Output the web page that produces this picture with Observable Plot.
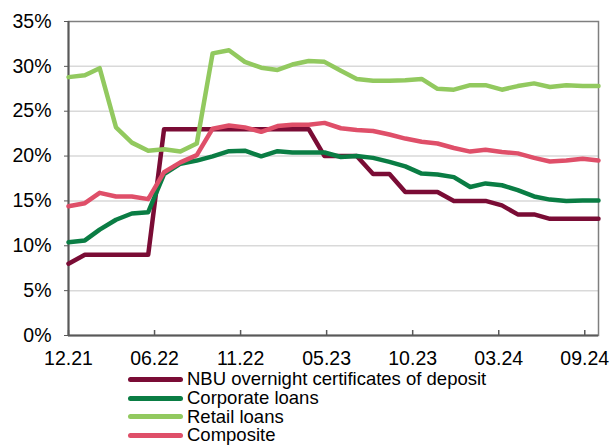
<!DOCTYPE html>
<html><head><meta charset="utf-8">
<script src="https://cdn.jsdelivr.net/npm/d3@7"></script>
<script src="https://cdn.jsdelivr.net/npm/@observablehq/plot@0.6"></script>
<style>
body{margin:0;background:#fff;font-family:"Liberation Sans",Arial,sans-serif;}
#chart{position:absolute;left:0;top:0;}
#legend{position:absolute;left:128px;top:370px;font-size:18.5px;line-height:18.8px;color:#000;white-space:nowrap;}
.row{display:flex;align-items:center;height:18.8px;overflow:visible;}
.row .tx{display:block;line-height:18.8px;height:18.8px;}
.sw{width:55px;height:5px;border-radius:3px;margin-right:4px;flex:none;}
</style></head><body>
<div id="chart"></div>
<div id="legend"></div>
<script>
const months = ["2021-12","2022-01","2022-02","2022-03","2022-04","2022-05","2022-06","2022-07","2022-08","2022-09","2022-10","2022-11",
  "2022-12","2023-01","2023-02","2023-03","2023-04","2023-05","2023-06","2023-07","2023-08","2023-09","2023-10","2023-11",
  "2023-12","2024-01","2024-02","2024-03","2024-04","2024-05","2024-06","2024-07","2024-08","2024-09"];
const nbu = [8, 9, 9, 9, 9, 9, 23, 23, 23, 23, 23, 23, 23, 23, 23, 23, 20, 20, 20, 18, 18, 16, 16, 16, 15, 15, 15, 14.5, 13.5, 13.5, 13, 13, 13, 13];
const corporate = [10.4, 10.6, 11.8, 12.9, 13.6, 13.75, 18.0, 19.15, 19.5, 19.97, 20.55, 20.6, 19.97, 20.55, 20.4, 20.4, 20.4, 19.9, 20.0, 19.8, 19.35, 18.85, 18.05, 17.95, 17.65, 16.55, 16.95, 16.75, 16.2, 15.5, 15.15, 15.0, 15.05, 15.05];
const retail = [28.8, 29.0, 29.8, 23.2, 21.5, 20.6, 20.75, 20.5, 21.4, 31.45, 31.8, 30.5, 29.85, 29.6, 30.2, 30.6, 30.5, 29.5, 28.6, 28.4, 28.4, 28.45, 28.6, 27.5, 27.4, 27.9, 27.9, 27.4, 27.8, 28.1, 27.7, 27.9, 27.8, 27.8];
const composite = [14.4, 14.75, 15.9, 15.5, 15.5, 15.2, 18.2, 19.3, 20.1, 23.05, 23.4, 23.2, 22.7, 23.35, 23.5, 23.5, 23.7, 23.1, 22.9, 22.8, 22.4, 21.95, 21.6, 21.4, 20.9, 20.5, 20.7, 20.45, 20.3, 19.8, 19.4, 19.5, 19.7, 19.5];
const seriesNames = ["NBU overnight certificates of deposit","Corporate loans","Retail loans","Composite"];
const seriesColors = ["#7a0c35","#0a7d44","#92c95f","#df4f69"];
const seriesValues = [nbu, corporate, retail, composite];
const yTicks = [0,5,10,15,20,25,30,35];
const tickDates = ["2021-12-31","2022-06-12","2022-11-22","2023-05-04","2023-10-14","2024-03-25","2024-09-04"];
const tickLabels = ["12.21","06.22","11.22","05.23","10.23","03.24","09.24"];

const W = 611, H = 370, mL = 68, mR = 13, mT = 21, mB = 35;
const parseM = d3.utcParse("%Y-%m");
const parseD = d3.utcParse("%Y-%m-%d");
const endOfMonth = s => d3.utcDay.offset(d3.utcMonth.offset(parseM(s), 1), -1);
const dates = months.map(endOfMonth);
const ticks = tickDates.map(parseD);
const labelMap = new Map(ticks.map((d, i) => [+d, tickLabels[i]]));

const lines = seriesNames.map((name, k) =>
  Plot.line(dates.map((d, i) => ({date: d, value: seriesValues[k][i]})), {
    x: "date", y: "value", stroke: seriesColors[k], strokeWidth: 4.5,
    strokeLinejoin: "round", strokeLinecap: "round"
  })
);

const chart = Plot.plot({
  width: W, height: H,
  marginLeft: mL, marginRight: mR, marginTop: mT, marginBottom: mB,
  style: {fontFamily: "'Liberation Sans', Arial, sans-serif", fontSize: "19.5px", background: "#fff", color: "#000"},
  x: {type: "utc", domain: [dates[0], dates[dates.length - 1]], label: null},
  y: {domain: [0, 35], label: null},
  marks: [
    Plot.gridY(yTicks.filter(v => v > 0 && v < 35), {stroke: "#d9d9d9", strokeOpacity: 1, strokeWidth: 1.5}),
    Plot.frame({stroke: "#7f7f7f", strokeWidth: 1.5}),
    Plot.ruleY([0], {stroke: "#595959", strokeWidth: 2}),
    Plot.ruleX([dates[0]], {stroke: "#595959", strokeWidth: 2}),
    Plot.ruleX(ticks, {x: d => d, insetTop: (H - mT - mB) - 5, stroke: "#595959", strokeWidth: 1.5}),
    Plot.axisY(yTicks, {label: null, tickFormat: d => d + "%", tickSize: 4, tickPadding: 13, stroke: "#595959", fill: "#000", fontSize: 19.5}),
    Plot.axisX(ticks, {label: null, tickFormat: d => labelMap.get(+d), tickSize: 0, tickPadding: 16, fill: "#000", fontSize: 19.5}),
    ...lines
  ]
});
document.getElementById("chart").appendChild(chart);

const legend = document.getElementById("legend");
seriesNames.forEach((name, k) => {
  const row = document.createElement("div");
  row.className = "row";
  const sw = document.createElement("span");
  sw.className = "sw";
  sw.style.background = seriesColors[k];
  const t = document.createElement("span");
  t.className = "tx";
  t.textContent = name;
  row.appendChild(sw); row.appendChild(t);
  legend.appendChild(row);
});
</script></body></html>
